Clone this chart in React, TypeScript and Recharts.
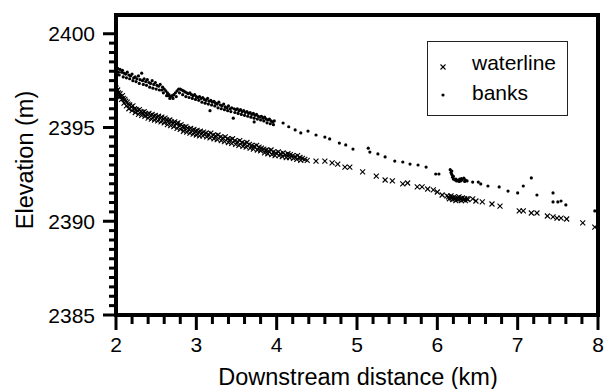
import * as React from 'react';
import { Label, Legend, ReferenceArea, Scatter, ScatterChart, XAxis, YAxis } from 'recharts';

// waterline survey points (km downstream, elevation m)
const waterlineX = [
    2.00, 2.01, 2.02, 2.03, 2.05, 2.06, 2.08, 2.09, 2.11, 2.12, 2.14, 2.15, 2.17, 2.19, 2.21, 2.23, 2.25, 2.27, 2.29, 2.31,
    2.33, 2.35, 2.37, 2.39, 2.41, 2.43, 2.45, 2.47, 2.49, 2.51, 2.53, 2.55, 2.57, 2.59, 2.61, 2.63, 2.65, 2.67, 2.69, 2.71,
    2.73, 2.75, 2.77, 2.79, 2.81, 2.83, 2.85, 2.87, 2.89, 2.91, 2.93, 2.95, 2.97, 2.99, 3.01, 3.03, 3.05, 3.07, 3.09, 3.12,
    3.15, 3.18, 3.21, 3.24, 3.27, 3.30, 3.33, 3.36, 3.39, 3.42, 3.45, 3.48, 3.51, 3.54, 3.57, 3.60, 3.63, 3.66, 3.69, 3.72,
    3.75, 3.78, 3.81, 3.84, 3.87, 3.90, 3.93, 3.96, 3.99, 4.02, 4.05, 4.08, 4.11, 4.14, 4.17, 4.20, 4.23, 4.26, 4.29, 4.32,
    4.35, 4.38, 4.49, 4.60, 4.69, 4.76, 4.85, 4.91, 5.07, 5.24, 5.35, 5.44, 5.57, 5.63, 5.75, 5.81, 5.88, 5.95, 6.00, 6.06,
    6.12, 6.14, 6.15, 6.17, 6.18, 6.19, 6.21, 6.22, 6.23, 6.25, 6.26, 6.27, 6.29, 6.30, 6.31, 6.33, 6.34, 6.35, 6.37, 6.38,
    6.44, 6.48, 6.56, 6.68, 6.78, 7.02, 7.07, 7.17, 7.24, 7.37, 7.44, 7.49, 7.54, 7.61, 7.81, 7.96,
    // lower edge of the dense reach
    2.01, 2.04, 2.07, 2.10, 2.13, 2.16, 2.20, 2.24, 2.28, 2.32, 2.36, 2.40, 2.44, 2.48, 2.52, 2.56, 2.60, 2.64, 2.68, 2.72,
    2.76, 2.80, 2.84, 2.88, 2.92, 2.96, 3.00, 3.04, 3.08, 3.13, 3.17, 3.22, 3.26, 3.31, 3.35, 3.40, 3.44, 3.49, 3.53, 3.58,
    3.62, 3.67, 3.71, 3.76, 3.80, 3.85, 3.89, 3.94, 3.98, 4.03, 4.07, 4.12, 4.16, 4.21, 4.25, 4.30,
];
const waterlineY = [
    2397.10, 2396.95, 2397.00, 2396.85, 2396.80, 2396.65, 2396.70, 2396.55, 2396.50, 2396.40, 2396.35, 2396.25, 2396.20, 2396.10, 2396.15, 2396.00, 2395.95, 2395.90, 2395.95, 2395.85,
    2395.80, 2395.85, 2395.75, 2395.70, 2395.75, 2395.65, 2395.70, 2395.60, 2395.65, 2395.55, 2395.60, 2395.50, 2395.55, 2395.45, 2395.50, 2395.40, 2395.35, 2395.40, 2395.30, 2395.25,
    2395.30, 2395.20, 2395.25, 2395.10, 2395.15, 2395.05, 2395.00, 2395.05, 2394.95, 2394.90, 2394.95, 2394.85, 2394.90, 2394.80, 2394.85, 2394.75, 2394.80, 2394.70, 2394.75, 2394.70,
    2394.65, 2394.70, 2394.60, 2394.55, 2394.60, 2394.50, 2394.45, 2394.50, 2394.40, 2394.35, 2394.40, 2394.30, 2394.25, 2394.30, 2394.20, 2394.15, 2394.20, 2394.10, 2394.05, 2394.00,
    2394.05, 2393.95, 2393.90, 2393.85, 2393.80, 2393.75, 2393.80, 2393.70, 2393.65, 2393.70, 2393.60, 2393.65, 2393.55, 2393.60, 2393.55, 2393.50, 2393.45, 2393.50, 2393.40, 2393.35,
    2393.30, 2393.25, 2393.21, 2393.21, 2393.11, 2393.05, 2392.89, 2392.89, 2392.63, 2392.41, 2392.20, 2392.15, 2391.99, 2392.04, 2391.83, 2391.83, 2391.72, 2391.67, 2391.56, 2391.40,
    2391.35, 2391.30, 2391.20, 2391.35, 2391.25, 2391.15, 2391.30, 2391.20, 2391.10, 2391.25, 2391.15, 2391.30, 2391.20, 2391.10, 2391.25, 2391.15, 2391.20, 2391.10, 2391.20, 2391.15,
    2391.19, 2391.08, 2391.03, 2390.92, 2390.81, 2390.55, 2390.55, 2390.44, 2390.44, 2390.28, 2390.23, 2390.17, 2390.17, 2390.12, 2389.91, 2389.69,
    2396.80, 2396.65, 2396.50, 2396.30, 2396.15, 2396.00, 2395.90, 2395.80, 2395.70, 2395.65, 2395.60, 2395.50, 2395.45, 2395.40, 2395.35, 2395.30, 2395.25, 2395.15, 2395.10, 2395.05,
    2394.95, 2394.90, 2394.80, 2394.75, 2394.70, 2394.65, 2394.60, 2394.55, 2394.55, 2394.50, 2394.45, 2394.40, 2394.35, 2394.30, 2394.25, 2394.20, 2394.15, 2394.10, 2394.05, 2394.00,
    2393.95, 2393.90, 2393.85, 2393.80, 2393.75, 2393.65, 2393.60, 2393.55, 2393.50, 2393.50, 2393.45, 2393.40, 2393.40, 2393.35, 2393.30, 2393.25,
];

// bank survey points
const banksX = [
    2.00, 2.00, 2.02, 2.03, 2.05, 2.07, 2.08, 2.10, 2.12, 2.14, 2.16, 2.18, 2.20, 2.22, 2.24, 2.26, 2.28, 2.30, 2.32, 2.33,
    2.35, 2.37, 2.39, 2.41, 2.43, 2.45, 2.47, 2.49, 2.51, 2.53, 2.55, 2.57, 2.58, 2.60, 2.62, 2.64, 2.65, 2.66, 2.68, 2.70,
    2.72, 2.74, 2.76, 2.78, 2.80, 2.82, 2.84, 2.86, 2.88, 2.90, 2.92, 2.94, 2.96, 2.98, 3.00, 3.02, 3.04, 3.06, 3.08, 3.10,
    3.12, 3.14, 3.16, 3.17, 3.18, 3.20, 3.22, 3.24, 3.26, 3.28, 3.30, 3.32, 3.34, 3.36, 3.38, 3.40, 3.42, 3.44, 3.46, 3.47,
    3.49, 3.51, 3.53, 3.55, 3.57, 3.59, 3.61, 3.63, 3.65, 3.67, 3.69, 3.71, 3.72, 3.73, 3.75, 3.77, 3.79, 3.81, 3.83, 3.85,
    3.87, 3.89, 3.91, 3.93, 3.95, 3.97, 4.08, 4.15, 4.23, 4.30, 4.39, 4.49, 4.60, 4.66, 4.78, 4.86, 4.95, 5.14, 5.16, 5.26,
    5.35, 5.47, 5.57, 5.66, 5.76, 5.86, 5.98, 6.02, 6.16, 6.17, 6.18, 6.18, 6.19, 6.20, 6.20, 6.22, 6.23, 6.24, 6.26, 6.27,
    6.28, 6.29, 6.30, 6.31, 6.33, 6.34, 6.35, 6.37, 6.44, 6.51, 6.54, 6.63, 6.77, 6.88, 7.00, 7.07, 7.17, 7.24, 7.44, 7.44,
    7.50, 7.54, 7.60, 7.96,
    // lower edge of the dense reach
    2.01, 2.04, 2.09, 2.13, 2.17, 2.21, 2.25, 2.29, 2.34, 2.38, 2.42, 2.46, 2.50, 2.54, 2.59, 2.63, 2.67, 2.71, 2.75, 2.79,
    2.83, 2.87, 2.91, 2.95, 2.99, 3.03, 3.07, 3.11, 3.15, 3.19, 3.23, 3.27, 3.31, 3.35, 3.39, 3.43, 3.48, 3.52, 3.56, 3.60,
    3.64, 3.68, 3.72, 3.76, 3.80, 3.84, 3.88, 3.92, 3.96,
];
const banksY = [
    2398.30, 2398.05, 2398.15, 2397.95, 2398.10, 2397.95, 2398.05, 2397.90, 2397.85, 2397.95, 2397.80, 2397.75, 2397.85, 2397.65, 2397.70, 2397.60, 2397.75, 2397.55, 2397.90, 2397.50,
    2397.60, 2397.45, 2397.55, 2397.40, 2397.35, 2397.50, 2397.30, 2397.40, 2397.25, 2397.20, 2397.30, 2397.00, 2397.15, 2397.05, 2396.95, 2396.85, 2396.70, 2396.75, 2396.65, 2396.70,
    2396.75, 2396.85, 2396.95, 2397.05, 2397.05, 2397.00, 2396.95, 2396.90, 2396.85, 2396.80, 2396.85, 2396.75, 2396.70, 2396.75, 2396.65, 2396.60, 2396.65, 2396.55, 2396.60, 2396.50,
    2396.45, 2396.55, 2396.40, 2395.90, 2396.45, 2396.35, 2396.40, 2396.30, 2396.25, 2396.35, 2396.20, 2396.15, 2396.25, 2396.10, 2396.05, 2396.15, 2396.00, 2396.05, 2395.50, 2396.00,
    2395.95, 2396.00, 2395.90, 2395.95, 2395.85, 2395.90, 2395.80, 2395.85, 2395.75, 2395.80, 2395.70, 2395.75, 2395.30, 2395.65, 2395.70, 2395.60, 2395.55, 2395.60, 2395.50, 2395.55,
    2395.45, 2395.40, 2395.45, 2395.35, 2395.30, 2395.35, 2395.24, 2395.04, 2394.87, 2394.71, 2394.81, 2394.60, 2394.49, 2394.39, 2394.17, 2394.07, 2393.85, 2393.90, 2393.69, 2393.59,
    2393.43, 2393.21, 2393.16, 2393.05, 2393.00, 2392.89, 2392.52, 2392.52, 2392.75, 2392.60, 2392.50, 2392.68, 2392.35, 2392.25, 2392.40, 2392.20, 2392.25, 2392.15, 2392.20, 2392.12,
    2392.25, 2392.15, 2392.28, 2392.20, 2392.30, 2392.12, 2392.20, 2392.15, 2392.09, 2392.09, 2391.99, 2391.88, 2391.83, 2391.61, 2391.51, 2391.88, 2392.31, 2391.40, 2391.51, 2391.03,
    2391.03, 2391.08, 2390.87, 2390.55,
    2397.85, 2397.80, 2397.70, 2397.65, 2397.60, 2397.50, 2397.45, 2397.35, 2397.30, 2397.25, 2397.15, 2397.10, 2397.05, 2397.00, 2396.85, 2396.70, 2396.55, 2396.55, 2396.65, 2396.85,
    2396.75, 2396.65, 2396.60, 2396.55, 2396.50, 2396.45, 2396.35, 2396.30, 2396.25, 2396.20, 2396.15, 2396.05, 2396.00, 2395.95, 2395.90, 2395.85, 2395.80, 2395.75, 2395.70, 2395.65,
    2395.60, 2395.55, 2395.50, 2395.45, 2395.40, 2395.35, 2395.25, 2395.20, 2395.15,
];

const xTicks = [
    2, 2.2, 2.4, 2.6, 2.8, 3, 3.2, 3.4, 3.6, 3.8, 4, 4.2, 4.4, 4.6, 4.8, 5,
    5.2, 5.4, 5.6, 5.8, 6, 6.2, 6.4, 6.6, 6.8, 7, 7.2, 7.4, 7.6, 7.8, 8,
];
const yTicks = [
    2385, 2385.5, 2386, 2386.5, 2387, 2387.5, 2388, 2388.5, 2389, 2389.5, 2390, 2390.5, 2391, 2391.5, 2392, 2392.5,
    2393, 2393.5, 2394, 2394.5, 2395, 2395.5, 2396, 2396.5, 2397, 2397.5, 2398, 2398.5, 2399, 2399.5, 2400,
];

const waterline = waterlineX.map((x, i) => ({ x, y: waterlineY[i] }));
const banks = banksX.map((x, i) => ({ x, y: banksY[i] }));

const FONT = '"Liberation Sans", Arial, sans-serif';

const Cross = (props: any) => {
    const { cx, cy } = props;
    const s = 2.5;
    return (
        <g stroke="#000" strokeWidth={1.1}>
            <line x1={cx - s} y1={cy - s} x2={cx + s} y2={cy + s}/>
            <line x1={cx - s} y1={cy + s} x2={cx + s} y2={cy - s}/>
        </g>
    );
};

const Dot = (props: any) => <circle cx={props.cx} cy={props.cy} r={1.6} fill="#000"/>;

const XTick = (props: any) => {
    const { x, y, payload } = props;
    const major = Number.isInteger(payload.value);
    return (
        <g>
            <line x1={x} y1={y} x2={x} y2={y + (major ? 15 : 9)} stroke="#000" strokeWidth={3}/>
            {major && (
                <text x={x} y={y + 37} textAnchor="middle" fontSize={21} fontFamily={FONT} fill="#000">
                    {payload.value}
                </text>
            )}
        </g>
    );
};

const YTick = (props: any) => {
    const { x, y, payload } = props;
    const major = payload.value % 5 === 0;
    return (
        <g>
            <line x1={x - (major ? 13 : 7)} y1={y} x2={x} y2={y} stroke="#000" strokeWidth={3}/>
            {major && (
                <text x={x - 21} y={y + 7.5} textAnchor="end" fontSize={21} fontFamily={FONT} fill="#000">
                    {payload.value}
                </text>
            )}
        </g>
    );
};

const LegendBox = () => (
    <div style={{ width: 141, height: 75, border: '1px solid #222', boxSizing: 'border-box', background: '#fff' }}>
        <svg width={139} height={73}>
            <Cross cx={15} cy={25}/>
            <Dot cx={15} cy={53}/>
            <text x={44} y={28} fontSize={21} fontFamily={FONT} fill="#000">waterline</text>
            <text x={44} y={58} fontSize={21} fontFamily={FONT} fill="#000">banks</text>
        </svg>
    </div>
);

export default class App extends React.PureComponent {

    render() {
        return (
            <div style={{ position: 'absolute', left: 0, top: 0, background: '#fff' }}>
                <ScatterChart width={604} height={389} margin={{ top: 15, right: 6, bottom: 0, left: 0 }}>
                    <XAxis
                        type="number"
                        dataKey="x"
                        domain={[2, 8]}
                        ticks={xTicks}
                        interval={0}
                        height={74}
                        tickSize={0}
                        tickMargin={0}
                        tickLine={false}
                        tick={<XTick/>}
                        axisLine={{ stroke: '#000', strokeWidth: 4 }}
                        allowDataOverflow
                    >
                        <Label content={() => (
                            <text x={358} y={385} textAnchor="middle" fontSize={23.5} fontFamily={FONT} fill="#000">
                                Downstream distance (km)
                            </text>
                        )}/>
                    </XAxis>
                    <YAxis
                        type="number"
                        dataKey="y"
                        domain={[2385, 2401]}
                        ticks={yTicks}
                        interval={0}
                        width={116}
                        tickSize={0}
                        tickMargin={0}
                        tickLine={false}
                        tick={<YTick/>}
                        axisLine={{ stroke: '#000', strokeWidth: 4 }}
                        allowDataOverflow
                    >
                        <Label content={() => (
                            <text x={33} y={160} transform="rotate(-90 33 160)" textAnchor="middle" fontSize={23.5} fontFamily={FONT} fill="#000">
                                Elevation (m)
                            </text>
                        )}/>
                    </YAxis>
                    <Scatter name="waterline" data={waterline} shape={<Cross/>} fill="#000" isAnimationActive={false}/>
                    <Scatter name="banks" data={banks} shape={<Dot/>} fill="#000" isAnimationActive={false}/>
                    <ReferenceArea x1={2} x2={8} y1={2385} y2={2401} fill="none" stroke="#000" strokeWidth={4}/>
                    <Legend
                        layout="vertical"
                        align="center"
                        verticalAlign="middle"
                        content={<LegendBox/>}
                        wrapperStyle={{ left: 427, top: 41, width: 141, height: 75 }}
                    />
                </ScatterChart>
            </div>
        );
    }
}
